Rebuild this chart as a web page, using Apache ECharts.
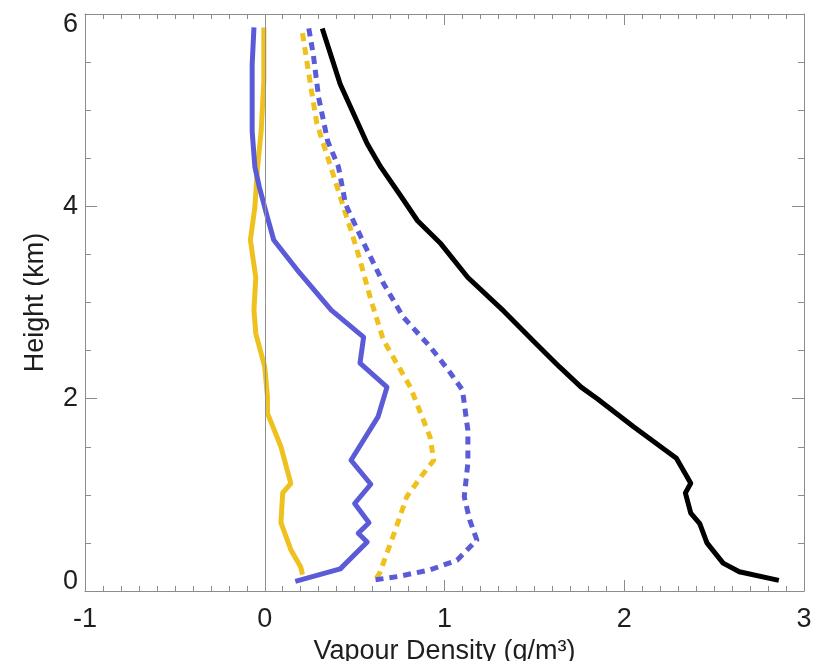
<!DOCTYPE html>
<html>
<head>
<meta charset="utf-8">
<script src="https://cdn.jsdelivr.net/npm/echarts@6/dist/echarts.min.js"></script>
<style>
html,body{margin:0;padding:0;background:#fff;}
#chart{width:815px;height:661px;}
</style>
</head>
<body>
<div id="chart"></div>
<script>
// X ticks (g/m^3) and Y ticks (km)
var xTicks = [-1, 0, 1, 2, 3];
var yTicks = [0, 2, 4, 6];

// Black solid profile
var blackHeights = [5.85, 5.27, 4.65, 4.41, 4.11, 3.85, 3.61, 3.26, 2.91, 2.59, 2.33, 2.12, 2.0, 1.71, 1.38, 1.12, 1.02, 0.81, 0.70, 0.50, 0.29, 0.20, 0.11];
var blackValues  = [0.32, 0.42, 0.57, 0.645, 0.756, 0.85, 0.98, 1.13, 1.33, 1.50, 1.64, 1.76, 1.85, 2.05, 2.29, 2.37, 2.34, 2.37, 2.42, 2.46, 2.55, 2.64, 2.86];

// Blue solid profile
var blueHeights = [5.86, 5.48, 4.78, 4.41, 4.20, 4.06, 3.92, 3.65, 3.34, 2.92, 2.64, 2.37, 2.12, 1.81, 1.36, 1.11, 0.91, 0.71, 0.60, 0.51, 0.23, 0.10];
var blueValues  = [-0.06, -0.07, -0.07, -0.055, -0.03, -0.01, 0.01, 0.05, 0.18, 0.37, 0.55, 0.53, 0.68, 0.63, 0.48, 0.59, 0.50, 0.58, 0.52, 0.57, 0.42, 0.17];

// Yellow solid profile
var yellowHeights = [5.86, 5.30, 4.78, 4.41, 3.99, 3.65, 3.26, 2.92, 2.68, 2.33, 2.02, 1.85, 1.50, 1.12, 1.02, 0.71, 0.43, 0.25, 0.17];
var yellowValues  = [-0.005, -0.005, -0.02, -0.04, -0.055, -0.08, -0.05, -0.06, -0.05, 0.0, 0.015, 0.015, 0.09, 0.145, 0.10, 0.09, 0.145, 0.20, 0.21];

// Yellow dashed profile
var yellowDashHeights = [5.80, 5.20, 4.86, 4.51, 4.16, 3.92, 3.75, 3.44, 3.03, 2.61, 2.12, 1.60, 1.36, 1.19, 0.98, 0.60, 0.19, 0.13];
var yellowDashValues  = [0.21, 0.26, 0.29, 0.35, 0.41, 0.45, 0.48, 0.53, 0.59, 0.66, 0.81, 0.92, 0.94, 0.87, 0.79, 0.72, 0.64, 0.62];

// Blue dashed profile
var blueDashHeights = [5.85, 5.58, 5.13, 4.68, 4.41, 4.02, 3.62, 3.20, 2.85, 2.54, 2.30, 2.09, 1.67, 1.33, 0.98, 0.74, 0.53, 0.32, 0.22, 0.15, 0.11];
var blueDashValues  = [0.245, 0.27, 0.30, 0.35, 0.41, 0.45, 0.55, 0.66, 0.77, 0.92, 1.02, 1.10, 1.13, 1.13, 1.11, 1.14, 1.18, 1.07, 0.92, 0.74, 0.59];

function pairs(xs, ys) {
  var out = [];
  for (var i = 0; i < xs.length; i++) out.push([xs[i], ys[i]]);
  return out;
}

var FONT = '"Liberation Sans", Arial, Helvetica, sans-serif';
var FS = 27;
var TXT = '#1e1e1e';
var AX = '#8c8c8c';
var BLUE = '#5b5bd8';
var YEL = '#efc11f';

var chart = echarts.init(document.getElementById('chart'));

function lineSeries(name, data, color, dashed, z) {
  return {
    name: name,
    type: 'line',
    data: data,
    showSymbol: false,
    symbol: 'none',
    z: z,
    animation: false,
    lineStyle: {color: color, width: 5, type: dashed ? [8, 6] : 'solid', cap: 'butt', join: 'round'}
  };
}

var baseX = {
  type: 'value', min: xTicks[0], max: xTicks[xTicks.length - 1], interval: 1,
  axisLine: {show: true, onZero: false, lineStyle: {color: AX, width: 1}},
  axisTick: {show: true, inside: true, length: 11, lineStyle: {color: AX}},
  minorTick: {show: true, splitNumber: 10, length: 5, lineStyle: {color: AX}},
  splitLine: {show: false}
};
var baseY = {
  type: 'value', min: yTicks[0], max: yTicks[yTicks.length - 1], interval: 2,
  axisLine: {show: true, onZero: false, lineStyle: {color: AX, width: 1}},
  axisTick: {show: true, inside: true, length: 12, lineStyle: {color: AX}},
  minorTick: {show: true, splitNumber: 4, length: 6, lineStyle: {color: AX}},
  splitLine: {show: false}
};

var option = {
  backgroundColor: '#ffffff',
  animation: false,
  grid: {left: 85, right: 11, top: 14, bottom: 70, containLabel: false, outerBoundsMode: 'none'},
  xAxis: [
    Object.assign({}, baseX, {
      position: 'bottom',
      name: 'Vapour Density (g/m³)',
      nameLocation: 'middle',
      nameGap: 44,
      nameTextStyle: {fontFamily: FONT, fontSize: FS, color: TXT},
      axisLabel: {show: true, margin: 15, fontFamily: FONT, fontSize: FS, color: TXT}
    }),
    Object.assign({}, baseX, {position: 'top', axisLabel: {show: false}})
  ],
  yAxis: [
    Object.assign({}, baseY, {
      position: 'left',
      name: 'Height (km)',
      nameLocation: 'middle',
      nameGap: 36,
      nameTextStyle: {fontFamily: FONT, fontSize: FS, color: TXT},
      axisLabel: {
        show: true, margin: 7, fontFamily: FONT, fontSize: FS, color: TXT,
        formatter: function (v) {
          if (v === yTicks[0]) return '{lo|' + v + '}';
          if (v === yTicks[yTicks.length - 1]) return '{hi|' + v + '}';
          return String(v);
        },
        rich: {
          lo: {fontFamily: FONT, fontSize: FS, color: TXT, padding: [0, 0, 18, 0]},
          hi: {fontFamily: FONT, fontSize: FS, color: TXT, padding: [22, 0, 0, 0]}
        }
      }
    }),
    Object.assign({}, baseY, {position: 'right', axisLabel: {show: false}})
  ],
  series: [
    Object.assign(lineSeries('Yellow', pairs(yellowValues, yellowHeights), YEL, false, 3), {
      markLine: {
        silent: true, symbol: ['none', 'none'], animation: false,
        label: {show: false},
        lineStyle: {color: '#909090', width: 1, type: 'solid'},
        data: [{xAxis: 0}]
      }
    }),
    lineSeries('Blue', pairs(blueValues, blueHeights), BLUE, false, 4),
    lineSeries('Yellow dashed', pairs(yellowDashValues, yellowDashHeights), YEL, true, 3),
    lineSeries('Blue dashed', pairs(blueDashValues, blueDashHeights), BLUE, true, 4),
    lineSeries('Black', pairs(blackValues, blackHeights), '#000000', false, 5)
  ]
};
chart.setOption(option);
</script>
</body>
</html>
